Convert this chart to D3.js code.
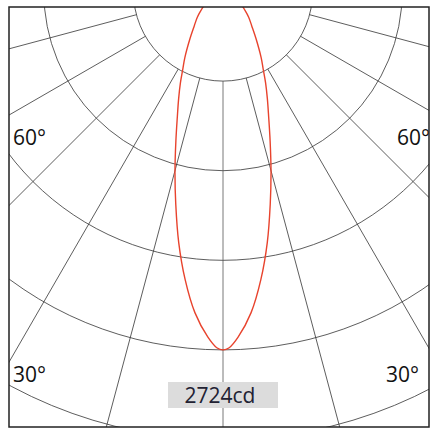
<!DOCTYPE html>
<html>
<head>
<meta charset="utf-8">
<script src="https://cdn.jsdelivr.net/npm/d3@7"></script>
<style>
  html, body { margin: 0; padding: 0; background: #fff; }
  svg { display: block; }
</style>
</head>
<body>
<div id="chart"></div>
<script>
// luminous intensity (cd) by angle from nadir, one half of a symmetric beam
var angles = [0, 1, 2.5, 5, 7.5, 10, 12.5, 15, 17.5, 20, 22.5, 25, 27.5, 30, 35, 40, 45, 50, 55, 60, 70, 80, 90];
var intensity = [2724, 2708, 2630, 2450, 2207, 1938, 1658, 1410, 1191, 1015, 881, 766, 660, 580, 438, 339, 276, 213, 167, 130, 80, 40, 0];
var gridValues = [681, 1362, 2043, 2724, 3405];
var spokeAngles = [-75, -60, -45, -30, -15, 0, 15, 30, 45, 60, 75];
var angleLabels = ["60°", "30°"];
var maxLabel = "2724cd";

var width = 436, height = 439;
var frame = {x: 9, y: 7, w: 420, h: 420};
var cx = 223, cy = -8.5;

var r = d3.scaleLinear().domain([0, 2724]).range([0, 358.4]);

var svg = d3.select("#chart").append("svg")
    .attr("width", width)
    .attr("height", height);

svg.append("clipPath").attr("id", "clip")
    .append("rect")
    .attr("x", frame.x).attr("y", frame.y)
    .attr("width", frame.w).attr("height", frame.h);

var g = svg.append("g").attr("clip-path", "url(#clip)");
var polar = g.append("g").attr("transform", `translate(${cx},${cy})`);

// angle 0 points straight down
function px(a, v) { return -Math.sin(a * Math.PI / 180) * r(v); }
function py(a, v) { return Math.cos(a * Math.PI / 180) * r(v); }

polar.selectAll("circle.grid")
    .data(gridValues)
    .join("circle")
    .attr("class", "grid")
    .attr("r", d => r(d))
    .attr("fill", "none")
    .attr("stroke", "#333")
    .attr("stroke-width", 0.8);

polar.selectAll("line.spoke")
    .data(spokeAngles)
    .join("line")
    .attr("class", "spoke")
    .attr("x1", d => px(d, gridValues[0]))
    .attr("y1", d => py(d, gridValues[0]))
    .attr("x2", d => px(d, 6000))
    .attr("y2", d => py(d, 6000))
    .attr("stroke", d => d === 0 ? "#555" : "#333")
    .attr("stroke-width", 0.8);

// mirror the half curve to get the full beam
var curveData = angles.slice().reverse().map((a, i) => ({a: -a, v: intensity[angles.length - 1 - i]}))
    .concat(angles.slice(1).map((a, i) => ({a: a, v: intensity[i + 1]})));

var line = d3.line()
    .x(d => px(d.a, d.v))
    .y(d => py(d.a, d.v))
    .curve(d3.curveCatmullRom.alpha(0.5));

polar.append("path")
    .datum(curveData)
    .attr("d", line)
    .attr("fill", "none")
    .attr("stroke", "#e8432d")
    .attr("stroke-width", 1.4);

// angle labels
var labelStyle = sel => sel
    .attr("font-family", "'Open Sans', sans-serif")
    .attr("font-size", 21)
    .attr("fill", "#111");

g.append("text").text(angleLabels[0]).attr("x", 13).attr("y", 145).call(labelStyle);
g.append("text").text(angleLabels[0]).attr("x", 397).attr("y", 145).call(labelStyle);
g.append("text").text(angleLabels[1]).attr("x", 13).attr("y", 382).call(labelStyle);
g.append("text").text(angleLabels[1]).attr("x", 386).attr("y", 382).call(labelStyle);

// max intensity tag
g.append("rect")
    .attr("x", 168).attr("y", 382)
    .attr("width", 110).attr("height", 26)
    .attr("fill", "#dcdcdc");
g.append("text")
    .text(maxLabel)
    .attr("x", 220).attr("y", 403)
    .attr("text-anchor", "middle")
    .attr("font-family", "'Open Sans', sans-serif")
    .attr("font-size", 21)
    .attr("fill", "#222233");

svg.append("rect")
    .attr("x", frame.x).attr("y", frame.y)
    .attr("width", frame.w).attr("height", frame.h)
    .attr("fill", "none")
    .attr("stroke", "#222")
    .attr("stroke-width", 1.5);
</script>
</body>
</html>
